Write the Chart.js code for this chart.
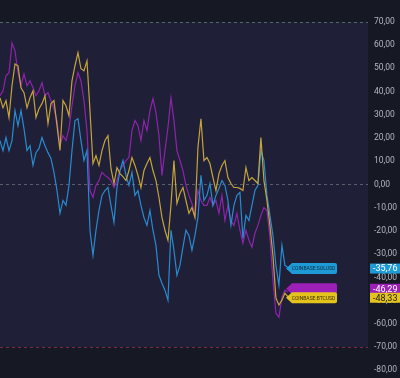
<!DOCTYPE html>
<html>
<head>
<meta charset="utf-8">
<script src="https://cdn.jsdelivr.net/npm/chart.js@4"></script>
<style>
  html, body { margin: 0; padding: 0; background: #161824; }
  #wrap { width: 400px; height: 378px; }
</style>
</head>
<body>
<div id="wrap"><canvas id="chart"></canvas></div>
<script>
// percent change series, one point per step
const solusd = [18.9, 14.6, 20.2, 14.6, 18.9, 31.8, 25.3, 31.8, 24.0, 14.6, 16.7, 8.2, 13.7, 15.5, 20.2, 16.7,
  13.7, 11.2, 5.2, -2.6, -12.4, -6.9, -9.0, -0.4, 14.6, 27.5, 28.3, 18.9, 10.3, 14.6, -19.7, -30.5,
  -19.7, -11.2, -4.7, -2.6, -1.3, -9.0, -16.3, -1.3, 6.0, 10.3, 3.9, -0.4, 5.2, -4.7, -2.6, -9.0,
  -14.2, -17.6, -11.2, -19.7, -26.2, -39.1, -42.5, -45.5, -49.8, -19.7, -28.3, -39.1, -34.8, -27.0,
  -19.7, -21.9, -28.3, -21.9, -14.2, 3.9, -6.9, -4.7, 0.4, -9.0, -4.7, -1.7, 1.7, -0.4, -6.9, -17.6,
  -9.0, -4.7, -3.4, -23.2, -13.3, -15.5, -9.0, -2.6, -0.4, 14.6, 10.3, -4.7, -13.3, -21.9, -34.8,
  -43.3, -26.2, -34.8, -35.76];

const series3 = [38.2, 40.3, 46.8, 48.1, 60.9, 57.5, 48.1, 42.5, 47.6, 42.5, 44.6, 41.6, 38.2, 40.3, 43.8, 38.2,
  39.5, 36.1, 32.6, 27.5, 16.7, 21.0, 18.9, 24.0, 33.9, 42.5, 48.1, 44.6, 36.1, 23.2, -2.6, -5.6,
  -0.4, 1.7, 5.2, 3.9, 3.0, 1.7, -1.3, 1.7, 6.0, 8.2, 10.3, 11.6, 23.2, 27.5, 25.3, 18.9,
  27.5, 23.2, 31.8, 36.9, 30.9, 21.0, 3.9, 14.6, 24.5, 37.3, 27.5, 14.6, 10.3, 6.0,
  -0.4, -4.7, -8.2, -13.3, -2.6, -6.9, -9.0, -9.0, -5.6, -9.0, -6.9, -12.4, -4.7, -15.5, -9.0, -15.5,
  -17.6, -12.4, -19.7, -25.3, -19.7, -24.0, -27.0, -21.0, -17.6, -13.3, -9.9, -11.2, -22.7, -41.2, -55.4,
  -57.1, -48.5, -45.5, -46.29];

const btcusd = [37.3, 33.0, 36.1, 28.8, 42.5, 51.9, 51.1, 41.6, 39.5, 33.0, 37.3, 40.3, 28.8, 32.6, 34.8, 38.2,
  26.2, 34.8, 36.1, 25.3, 14.6, 36.1, 33.9, 29.6, 44.6, 51.1, 56.7, 49.8, 48.9, 53.2, 31.8, 9.0,
  12.4, 8.2, 14.6, 18.9, 21.0, 6.9, 0.4, 7.3, 4.7, 3.4, 1.7, 6.0, 11.6, 8.2, 3.9, -1.3,
  6.0, 9.0, 11.6, 6.0, 1.7, -5.6, -14.2, -19.7, -24.0, -9.0, 10.3, -8.2, -3.9, -1.3,
  -6.9, -12.4, -9.9, -14.2, 15.9, 28.3, 10.3, 11.6, 9.0, 3.0, -2.6, 4.7, 8.2, 10.3, 3.0, 0.4,
  -1.3, -1.3, -1.7, -2.6, 7.3, 1.7, 3.0, 1.7, 0.4, 20.2, 1.7, -6.9, -17.6, -30.5, -48.9,
  -51.9, -49.8, -46.8, -48.33];

const seriesNames = ["COINBASE:SOLUSD", "", "COINBASE:BTCUSD"];
const seriesColors = ["#2a8bcf", "#8e24aa", "#c4a53c"];
const badgeColors = ["#1e9ad6", "#9c1fb8", "#e3c31c"];
const badgeText = ["#ffffff", "#ffffff", "#1a1a1a"];

const steps = solusd.map((v, i) => i);
const bandTop = 70;
const bandBottom = -70;

function fmt(v) {
  return v.toFixed(2).replace(".", ",");
}

const backdrop = {
  id: "backdrop",
  beforeDraw(c) {
    const ctx = c.ctx;
    const y = c.scales.y;
    const area = c.chartArea;
    ctx.save();
    ctx.fillStyle = "#161824";
    ctx.fillRect(0, 0, c.width, c.height);
    const t = y.getPixelForValue(bandTop);
    const b = y.getPixelForValue(bandBottom);
    ctx.fillStyle = "#1f1f37";
    ctx.fillRect(area.left, t, area.right - area.left, b - t);
    ctx.restore();
  },
  beforeDatasetsDraw(c) {
    const ctx = c.ctx;
    const y = c.scales.y;
    const area = c.chartArea;
    const lines = [[bandTop, "#4d6b60"], [0, "#5a5d6c"], [bandBottom, "#7a2c44"]];
    ctx.save();
    ctx.lineWidth = 1;
    ctx.setLineDash([3, 3]);
    lines.forEach(([v, col]) => {
      const py = Math.round(y.getPixelForValue(v)) + 0.5;
      ctx.strokeStyle = col;
      ctx.beginPath();
      ctx.moveTo(area.left, py);
      ctx.lineTo(area.right, py);
      ctx.stroke();
    });
    ctx.restore();
  }
};

const tags = {
  id: "tags",
  afterDraw(c) {
    const ctx = c.ctx;
    const y = c.scales.y;
    const area = c.chartArea;
    const last = c.data.datasets.map(d => d.data[d.data.length - 1]);
    const py = last.map(v => y.getPixelForValue(v) + 1);
    // keep the purple tag from sitting under the yellow one
    py[1] = Math.min(py[1], py[2] - 9);
    ctx.save();
    [0, 1, 2].forEach(i => {
      const cy = py[i];
      const h = 11;
      const tip = 286, left = 292, right = 337;
      ctx.fillStyle = badgeColors[i];
      ctx.beginPath();
      ctx.moveTo(tip, cy);
      ctx.lineTo(left, cy - h / 2);
      ctx.lineTo(right - 2, cy - h / 2);
      ctx.quadraticCurveTo(right, cy - h / 2, right, cy - h / 2 + 2);
      ctx.lineTo(right, cy + h / 2 - 2);
      ctx.quadraticCurveTo(right, cy + h / 2, right - 2, cy + h / 2);
      ctx.lineTo(left, cy + h / 2);
      ctx.closePath();
      ctx.fill();
      if (seriesNames[i]) {
        ctx.fillStyle = i === 2 ? "#3a2f05" : "#0d2a3d";
        ctx.font = "5px Roboto";
        ctx.textAlign = "center";
        ctx.textBaseline = "middle";
        ctx.fillText(seriesNames[i], (left + right) / 2 - 1, cy + 0.5);
      }
      // value badge on the axis
      ctx.fillStyle = badgeColors[i];
      ctx.fillRect(area.right + 2, cy - 5, c.width - area.right - 2, 10);
      ctx.fillStyle = badgeText[i];
      ctx.font = "9px Roboto";
      ctx.textAlign = "left";
      ctx.textBaseline = "middle";
      ctx.fillText(fmt(last[i]), area.right + 5, cy + 0.5);
    });
    ctx.restore();
  }
};

function makeSet(data, i, order) {
  return {
    label: seriesNames[i],
    data: data,
    borderColor: seriesColors[i],
    borderWidth: 1.2,
    pointRadius: 0,
    tension: 0,
    fill: false,
    order: order
  };
}

new Chart(document.getElementById("chart"), {
  type: "line",
  data: {
    labels: steps,
    datasets: [
      makeSet(solusd, 0, 2),
      makeSet(series3, 1, 3),
      makeSet(btcusd, 2, 1)
    ]
  },
  options: {
    responsive: true,
    maintainAspectRatio: false,
    animation: false,
    events: [],
    layout: { padding: 0 },
    plugins: {
      legend: { display: false },
      tooltip: { enabled: false }
    },
    scales: {
      x: {
        type: "linear",
        display: false,
        min: 0,
        max: 122.7
      },
      y: {
        position: "right",
        min: -83.3,
        max: 79.4,
        afterFit(scale) {
          scale.width = 32;
          scale.paddingTop = 0;
          scale.paddingBottom = 0;
        },
        afterBuildTicks(scale) {
          const t = [];
          for (let v = -80; v <= 70; v += 10) t.push({ value: v });
          scale.ticks = t;
        },
        grid: { display: false, drawTicks: false },
        border: { display: false },
        ticks: {
          color: "#b2b5be",
          padding: 6,
          font: { family: "Roboto", size: 8.5 },
          callback: v => fmt(v)
        }
      }
    }
  },
  plugins: [backdrop, tags]
});
</script>
</body>
</html>
